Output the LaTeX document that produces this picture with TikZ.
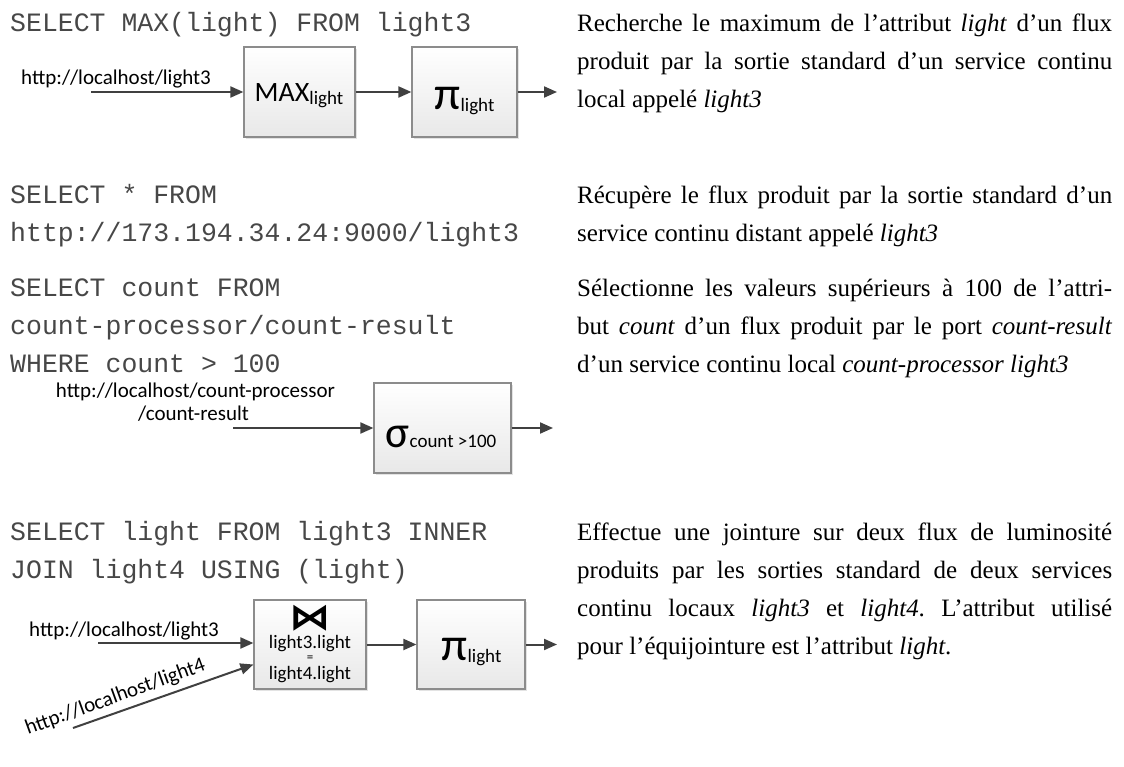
\documentclass[tikz,border=0pt]{standalone}
\usepackage{fontspec}
\setmainfont{Liberation Serif}
\newfontfamily\codefont{Liberation Mono}
\newfontfamily\calfont{Carlito}
\newfontfamily\symfont{DejaVu Sans}
\usetikzlibrary{arrows.meta,shadows,calc}
\frenchspacing
\tikzset{
  opbox/.style={draw=black!45, line width=1.2pt, top color=white, bottom color=black!9,
    drop shadow={shadow xshift=2pt, shadow yshift=-2pt, fill=black!22}},
  code/.style={anchor=base west, inner sep=0pt, text=black!72,
    font=\codefont\fontsize{26.5}{26.5}\selectfont},
  desc/.style={anchor=base west, inner sep=0pt, font=\fontsize{25}{25}\selectfont},
  lab/.style={inner sep=0pt, font=\calfont\fontsize{21}{23}\selectfont},
  optxt/.style={anchor=base, inner sep=0pt, font=\calfont},
  flow/.style={draw=black!75, line width=2pt, -{Triangle[length=13pt,width=11pt]}}
}
\newcommand{\fsz}[2]{{\fontsize{#1}{#1}\selectfont #2}}
\begin{document}
\begin{tikzpicture}[x=1pt,y=-1pt]
\useasboundingbox (0,0) rectangle (1124,767);

% ---------- left: SQL code ----------
\node[code] (c1)  at (10,32)  {SELECT MAX(light) FROM light3};
\node[code] (c2a) at (10,204) {SELECT * FROM};
\node[code] (c2b) at (10,242) {http://173.194.34.24:9000/light3};
\node[code] (c3a) at (10,296) {SELECT count FROM};
\node[code] (c3b) at (10,334) {count-processor/count-result};
\node[code] (c3c) at (10,372) {WHERE count > 100};
\node[code] (c4a) at (10,540) {SELECT light FROM light3 INNER};
\node[code] (c4b) at (10,578) {JOIN light4 USING (light)};

% ---------- right: descriptions ----------
\node[desc] (d1a) at (577,32)  {\makebox[535pt][s]{Recherche le maximum de l’attribut \textit{light} d’un flux}};
\node[desc] (d1b) at (577,70)  {\makebox[535pt][s]{produit par la sortie standard d’un service continu}};
\node[desc] (d1c) at (577,108) {local appelé \textit{light3}};
\node[desc] (d2a) at (577,204) {\makebox[535pt][s]{Récupère le flux produit par la sortie standard d’un}};
\node[desc] (d2b) at (577,242) {service continu distant appelé \textit{light3}};
\node[desc] (d3a) at (577,296) {\makebox[535pt][s]{Sélectionne les valeurs supérieurs à 100 de l’attri-}};
\node[desc] (d3b) at (577,334) {\makebox[535pt][s]{but \textit{count} d’un flux produit par le port \textit{count-result}}};
\node[desc] (d3c) at (577,372) {d’un service continu local \textit{count-processor light3}};
\node[desc] (d4a) at (577,540) {\makebox[535pt][s]{Effectue une jointure sur deux flux de luminosité}};
\node[desc] (d4b) at (577,578) {\makebox[535pt][s]{produits par les sorties standard de deux services}};
\node[desc] (d4c) at (577,616) {\makebox[535pt][s]{continu locaux \textit{light3} et \textit{light4}. L’attribut utilisé}};
\node[desc] (d4d) at (577,654) {pour l’équijointure est l’attribut \textit{light}.};

% ---------- diagram 1 ----------
\node[opbox, minimum width=111pt, minimum height=90pt] (max) at (299.5,92) {};
\node[opbox, minimum width=105pt, minimum height=90pt] (pi1) at (464.5,92) {};
\node[optxt] (maxt) at (299,102) {\fsz{28}{MAX}\raisebox{-3pt}{\fsz{19}{light}}};
\node[optxt] (pi1t) at (464.5,110) {\fsz{47}{π}\raisebox{-2pt}{\fsz{19}{light}}};
\node[lab, anchor=base west] (l1) at (21,85) {http://localhost/light3};
\coordinate (i1) at (91,92);
\coordinate (o1) at (557,92);
\draw[flow] (i1) -- (max.west);
\draw[flow] (max.east) -- (pi1.west);
\draw[flow] (pi1.east) -- (o1);

% ---------- diagram 2 ----------
\node[opbox, minimum width=137pt, minimum height=90pt] (sig) at (442.5,428) {};
\node[optxt] (sigt) at (441,447) {\fsz{45}{σ}\fsz{19}{count >100}};
\node[lab, anchor=base] (l2a) at (195.5,397) {http://localhost/count-processor};
\node[lab, anchor=base] (l2b) at (193.5,420) {/count-result};
\coordinate (i2) at (233,428);
\coordinate (o2) at (553,428);
\draw[flow] (i2) -- (sig.west);
\draw[flow] (sig.east) -- (o2);

% ---------- diagram 3 ----------
\node[opbox, minimum width=112pt, minimum height=89pt] (join) at (310,644.5) {};
\node[opbox, minimum width=108pt, minimum height=89pt] (pi2) at (471,644.5) {};
\node[inner sep=0pt, xscale=1.15, font=\symfont\bfseries\fontsize{36}{36}\selectfont] (jsym) at (310,618) {⋈};
\node[optxt, font=\calfont\fontsize{19}{19}\selectfont] (jl3) at (310,648) {light3.light};
\node[inner sep=0pt, font=\calfont\fontsize{13}{13}\selectfont] (jeq) at (310,659) {=};
\node[optxt, font=\calfont\fontsize{19}{19}\selectfont] (jl4) at (310,679) {light4.light};
\node[optxt] (pi2t) at (471.5,660) {\fsz{47}{π}\raisebox{-2pt}{\fsz{19}{light}}};
\node[lab, anchor=base west] (l3) at (29,636) {http://localhost/light3};
\node[lab, anchor=base west, rotate=20] (l4) at (28,735) {http://localhost/light4};
\coordinate (i3) at (98,643);
\coordinate (i4) at (73,728);
\coordinate (o3) at (557,644.5);
\draw[flow] (i3) -- (i3 -| join.west);
\draw[flow] (i4) -- ($(join.west)+(0,20)$);
\draw[flow] (join.east) -- (pi2.west);
\draw[flow] (pi2.east) -- (o3);
\end{tikzpicture}
\end{document}
